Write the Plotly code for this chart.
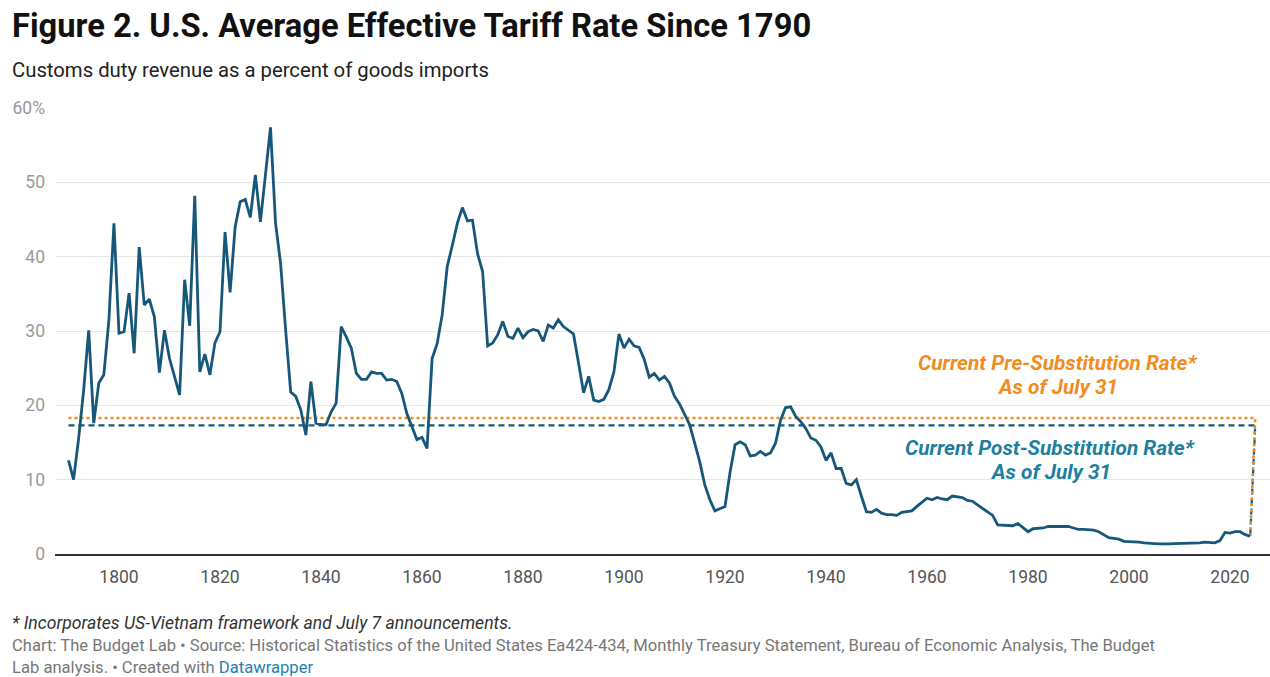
import plotly.graph_objects as go

# ---------------- data ----------------
years = list(range(1790, 2025))

rates_1790_1839 = [
    12.6, 10.0, 15.5, 22.0, 30.1, 17.6, 23.0, 24.1, 31.5, 44.5,
    29.7, 29.9, 35.1, 27.0, 41.3, 33.5, 34.3, 31.9, 24.4, 30.1,
    26.3, 23.9, 21.4, 36.9, 30.7, 48.2, 24.5, 26.9, 24.1, 28.4,
    29.9, 43.3, 35.2, 44.0, 47.4, 47.7, 45.3, 51.0, 44.7, 51.0,
    57.4, 44.5, 39.1, 30.1, 21.8, 21.2, 19.4, 16.0, 23.2, 17.6,
]
rates_1840_1889 = [
    17.4, 17.4, 19.1, 20.3, 30.6, 29.2, 27.7, 24.3, 23.5, 23.5,
    24.5, 24.3, 24.3, 23.4, 23.5, 23.2, 21.6, 18.9, 17.1, 15.4,
    15.7, 14.2, 26.3, 28.3, 32.2, 38.7, 41.5, 44.5, 46.6, 44.8,
    44.9, 40.4, 38.0, 28.0, 28.4, 29.5, 31.3, 29.3, 29.0, 30.4,
    29.1, 29.9, 30.2, 30.0, 28.6, 30.8, 30.4, 31.5, 30.6, 30.1,
]
rates_1890_1939 = [
    29.6, 25.7, 21.7, 23.9, 20.7, 20.5, 20.8, 22.1, 24.5, 29.6,
    27.7, 28.9, 28.0, 27.8, 26.2, 23.8, 24.3, 23.4, 23.9, 23.0,
    21.2, 20.2, 18.7, 17.4, 14.9, 12.4, 9.3, 7.3, 5.8, 6.1,
    6.4, 11.0, 14.7, 15.1, 14.7, 13.2, 13.3, 13.8, 13.3, 13.6,
    14.9, 18.0, 19.7, 19.8, 18.5, 17.8, 16.9, 15.6, 15.3, 14.4,
]
rates_1940_1989 = [
    12.6, 13.6, 11.5, 11.5, 9.5, 9.3, 10.0, 7.8, 5.7, 5.6,
    6.0, 5.5, 5.3, 5.3, 5.2, 5.6, 5.7, 5.8, 6.4, 7.0,
    7.5, 7.3, 7.6, 7.4, 7.3, 7.8, 7.7, 7.6, 7.2, 7.1,
    6.6, 6.1, 5.7, 5.2, 3.9, 3.9, 3.9, 3.8, 4.1, 3.5,
    3.0, 3.4, 3.4, 3.5, 3.7, 3.7, 3.8, 3.8, 3.7, 3.5,
]
rates_1990_2024 = [
    3.3, 3.3, 3.3, 3.2, 3.0, 2.6, 2.2, 2.1, 2.0, 1.7,
    1.7, 1.7, 1.6, 1.5, 1.4, 1.4, 1.35, 1.3, 1.35, 1.4,
    1.4, 1.45, 1.45, 1.5, 1.5, 1.6, 1.6, 1.5, 1.8, 2.9,
    2.8, 3.0, 3.0, 2.6, 2.4,
]
rates = rates_1790_1839 + rates_1840_1889 + rates_1890_1939 + rates_1940_1989 + rates_1990_2024

current_year = 2025
pre_substitution_rate = 18.3
post_substitution_rate = 17.3

x_ticks = [1800, 1820, 1840, 1860, 1880, 1900, 1920, 1940, 1960, 1980, 2000, 2020]
y_ticks = [0, 10, 20, 30, 40, 50, 60]
y_tick_labels = ["0", "10", "20", "30", "40", "50", "60%"]

# ---------------- styling ----------------
LINE = "#17587a"
ORANGE = "#f28c1c"
TEAL_TXT = "#1d7fa0"
FONT = "Roboto"

# plot area in pixels
L, R, T, B = 55, 0, 108, 123
W, H = 1270, 677
PW, PH = W - L - R, H - T - B


def px_x(px):
    return (px - L) / PW


def px_y(py):
    return (H - B - py) / PH


fig = go.Figure()

# reference lines: horizontal from first year to current year, then down to last data point
ref_x = [years[0], current_year, years[-1]]
fig.add_trace(go.Scatter(
    x=ref_x, y=[post_substitution_rate, post_substitution_rate, rates[-1]],
    mode="lines", line=dict(color=LINE, width=2.2, dash="6px,4px"),
    hoverinfo="skip", showlegend=False))
fig.add_trace(go.Scatter(
    x=ref_x, y=[pre_substitution_rate, pre_substitution_rate, rates[-1]],
    mode="lines", line=dict(color=ORANGE, width=2.6, dash="dot"),
    hoverinfo="skip", showlegend=False))

fig.add_trace(go.Scatter(
    x=years, y=rates, mode="lines",
    line=dict(color=LINE, width=2.8), showlegend=False))

source_text = (
    "Chart: The Budget Lab • Source: Historical Statistics of the United States Ea424-434, "
    "Monthly Treasury Statement, Bureau of Economic Analysis, The Budget<br>"
    "Lab analysis. • Created with <span style='color:#1d81b3'>Datawrapper</span>"
)

annotations = [
    dict(text="<b>Figure 2. U.S. Average Effective Tariff Rate Since 1790</b>",
         x=px_x(10), y=px_y(26), xanchor="left", yanchor="middle",
         font=dict(family=FONT, size=32.7, color="#111")),
    dict(text="Customs duty revenue as a percent of goods imports",
         x=px_x(10), y=px_y(70), xanchor="left", yanchor="middle",
         font=dict(family=FONT, size=20.3, color="#222")),
    dict(text="<i>* Incorporates US-Vietnam framework and July 7 announcements.</i>",
         x=px_x(10), y=px_y(623), xanchor="left", yanchor="middle",
         font=dict(family=FONT, size=17.6, color="#333")),
    dict(text=source_text, align="left",
         x=px_x(10), y=px_y(634), xanchor="left", yanchor="top",
         font=dict(family=FONT, size=16.6, color="#777")),
    dict(text="<b><i>Current Pre-Substitution Rate*</i></b>",
         x=px_x(1057), y=px_y(363), xanchor="center", yanchor="middle",
         font=dict(family=FONT, size=20.8, color=ORANGE)),
    dict(text="<b><i>As of July 31</i></b>",
         x=px_x(1057), y=px_y(387), xanchor="center", yanchor="middle",
         font=dict(family=FONT, size=20.8, color=ORANGE)),
    dict(text="<b><i>Current Post-Substitution Rate*</i></b>",
         x=px_x(1050), y=px_y(448), xanchor="center", yanchor="middle",
         font=dict(family=FONT, size=20.8, color=TEAL_TXT)),
    dict(text="<b><i>As of July 31</i></b>",
         x=px_x(1050), y=px_y(472), xanchor="center", yanchor="middle",
         font=dict(family=FONT, size=20.8, color=TEAL_TXT)),
]
for a in annotations:
    a.update(xref="paper", yref="paper", showarrow=False)

x0 = 1800 - (119 - L) / 5.05
x1 = x0 + PW / 5.05

fig.update_layout(
    width=W, height=H,
    margin=dict(l=L, r=R, t=T, b=B),
    paper_bgcolor="white", plot_bgcolor="white",
    font=dict(family=FONT),
    annotations=annotations,
    hovermode=False,
    xaxis=dict(range=[x0, x1], tickvals=x_ticks, showgrid=False, zeroline=False,
               showline=True, linecolor="#333", linewidth=2,
               ticks="", ticklabelstandoff=6,
               tickfont=dict(family=FONT, size=17.5, color="#555")),
    yaxis=dict(range=[0, 60], tickvals=y_ticks, ticktext=y_tick_labels,
               showgrid=True, gridcolor="#e6e6e6", gridwidth=1, zeroline=False,
               ticks="", ticklabelstandoff=9,
               tickfont=dict(family=FONT, size=17.5, color="#9a9a9a")),
)

fig.write_html(
    "out.html",
    config={"displayModeBar": False},
    post_script="document.body.style.margin='0';document.body.style.padding='0';",
)
